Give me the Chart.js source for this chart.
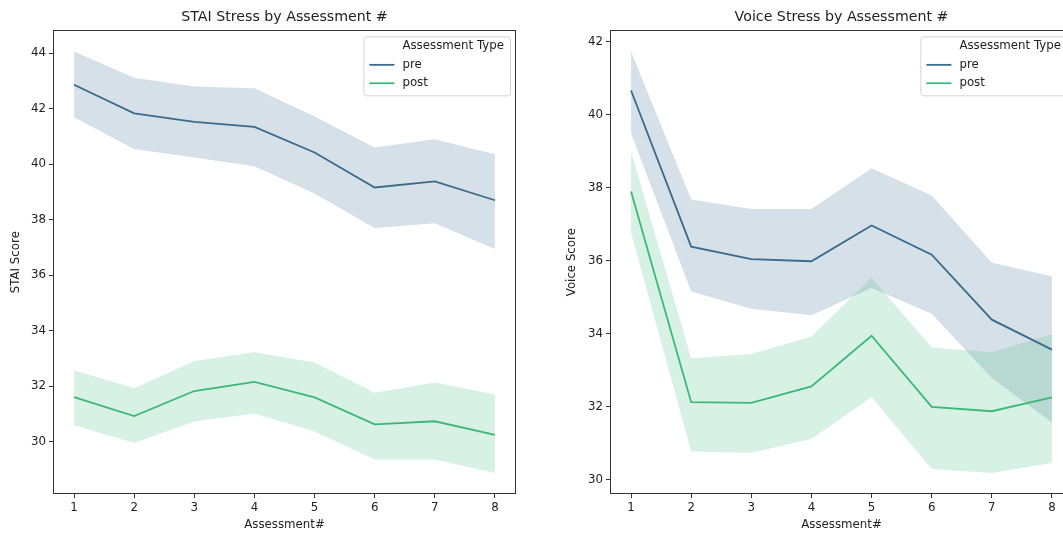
<!DOCTYPE html>
<html>
<head>
<meta charset="utf-8">
<script src="https://cdn.jsdelivr.net/npm/chart.js@4.4.0/dist/chart.umd.min.js"></script>
<style>
  html, body { margin: 0; padding: 0; background: #fff; overflow: hidden; }
  #wrap { position: relative; width: 1063px; height: 533px; overflow: hidden; }
  #staiChart { position: absolute; left: 0; top: 0; }
  #voiceChart { position: absolute; left: 550px; top: 0; }
</style>
</head>
<body>
<div id="wrap">
  <canvas id="staiChart" width="540" height="533"></canvas>
  <canvas id="voiceChart" width="540" height="533"></canvas>
</div>
<script>
const assessments = [1, 2, 3, 4, 5, 6, 7, 8];

const staiPre = [42.86, 41.83, 41.52, 41.34, 40.42, 39.16, 39.38, 38.70];
const staiPreLow = [41.69, 40.55, 40.24, 39.92, 38.94, 37.70, 37.87, 36.94];
const staiPreHigh = [44.06, 43.11, 42.80, 42.73, 41.72, 40.60, 40.90, 40.36];
const staiPost = [31.61, 30.93, 31.83, 32.16, 31.60, 30.63, 30.74, 30.25];
const staiPostLow = [30.60, 29.96, 30.73, 31.02, 30.37, 29.36, 29.36, 28.88];
const staiPostHigh = [32.58, 31.93, 32.91, 33.23, 32.86, 31.77, 32.14, 31.70];

const voicePre = [40.67, 36.39, 36.05, 35.99, 36.97, 36.17, 34.39, 33.57];
const voicePreLow = [39.49, 35.16, 34.69, 34.51, 35.26, 34.55, 32.79, 31.57];
const voicePreHigh = [41.74, 37.68, 37.42, 37.42, 38.54, 37.79, 35.95, 35.58];
const voicePost = [37.90, 32.13, 32.11, 32.56, 33.95, 32.00, 31.88, 32.26];
const voicePostLow = [36.77, 30.78, 30.74, 31.12, 32.27, 30.30, 30.19, 30.46];
const voicePostHigh = [39.00, 33.33, 33.45, 33.93, 35.54, 33.63, 33.50, 33.99];

const staiTicks = [30, 32, 34, 36, 38, 40, 42, 44];
const voiceTicks = [30, 32, 34, 36, 38, 40, 42];

const preColor = '#3a6a8c';
const postColor = '#3cb878';
const preBand = 'rgba(49, 100, 140, 0.2)';
const postBand = 'rgba(53, 183, 121, 0.2)';
const textColor = '#222';
const fontFamily = '"DejaVu Sans", sans-serif';
const labelSize = 11.8;
const titleSize = 14.2;

const pts = (ys) => assessments.map((x, i) => ({ x: x, y: ys[i] }));

// box round the plot, like matplotlib spines
const spines = {
  id: 'spines',
  afterDatasetsDraw(chart) {
    const { ctx, chartArea: a } = chart;
    ctx.save();
    ctx.strokeStyle = '#333';
    ctx.lineWidth = 1;
    ctx.strokeRect(Math.round(a.left) + 0.5, Math.round(a.top) + 0.5,
      Math.round(a.width) - 1, Math.round(a.height) - 1);
    ctx.restore();
  }
};

// legend box inside the upper right corner
const legendBox = {
  id: 'legendBox',
  afterDatasetsDraw(chart) {
    const { ctx, chartArea: a } = chart;
    const items = chart.data.datasets.filter(d => d.inLegend);
    const title = 'Assessment Type';
    ctx.save();
    ctx.font = labelSize + 'px ' + fontFamily;
    const w = 39 + ctx.measureText(title).width + 6;
    const h = 59;
    const x = a.right - 6 - w;
    const y = a.top + 6;
    ctx.beginPath();
    ctx.roundRect(x + 0.5, y + 0.5, w, h, 3);
    ctx.fillStyle = 'rgba(255, 255, 255, 0.8)';
    ctx.fill();
    ctx.strokeStyle = '#d4d4d4';
    ctx.lineWidth = 1;
    ctx.stroke();
    ctx.fillStyle = textColor;
    ctx.textBaseline = 'middle';
    ctx.fillText(title, x + 39, y + 10);
    items.forEach((d, i) => {
      const ly = y + 28.5 + i * 18.4;
      ctx.beginPath();
      ctx.moveTo(x + 6, ly);
      ctx.lineTo(x + 31, ly);
      ctx.strokeStyle = d.borderColor;
      ctx.lineWidth = 1.8;
      ctx.stroke();
      ctx.fillText(d.label, x + 39, ly);
    });
    ctx.restore();
  }
};

function makeChart(id, opts) {
  const lows = opts.preLow.concat(opts.postLow);
  const highs = opts.preHigh.concat(opts.postHigh);
  const lo = Math.min(...lows);
  const hi = Math.max(...highs);
  const margin = (hi - lo) * 0.05;

  const ctx = document.getElementById(id).getContext('2d');
  return new Chart(ctx, {
    type: 'line',
    data: {
      datasets: [
        { label: 'post', inLegend: false, data: pts(opts.post), borderColor: postColor, borderWidth: 1.8, pointRadius: 0, fill: false },
        { label: 'pre', inLegend: false, data: pts(opts.pre), borderColor: preColor, borderWidth: 1.8, pointRadius: 0, fill: false },
        { label: 'post high', data: pts(opts.postHigh), borderWidth: 0, pointRadius: 0, backgroundColor: postBand, fill: '+1' },
        { label: 'post low', data: pts(opts.postLow), borderWidth: 0, pointRadius: 0, fill: false },
        { label: 'pre high', data: pts(opts.preHigh), borderWidth: 0, pointRadius: 0, backgroundColor: preBand, fill: '+1' },
        { label: 'pre low', data: pts(opts.preLow), borderWidth: 0, pointRadius: 0, fill: false },
        // legend entries only
        { label: 'pre', inLegend: true, data: [], borderColor: preColor },
        { label: 'post', inLegend: true, data: [], borderColor: postColor }
      ]
    },
    options: {
      responsive: false,
      animation: false,
      layout: { padding: { left: 0, right: opts.rightPad, top: 0, bottom: 0 } },
      plugins: {
        legend: { display: false },
        tooltip: { enabled: false },
        title: {
          display: true,
          fullSize: false,
          text: opts.title,
          color: textColor,
          font: { size: titleSize, family: fontFamily, weight: 'normal' },
          padding: { top: 8.5, bottom: 4.8 }
        }
      },
      scales: {
        x: {
          type: 'linear',
          min: 0.65,
          max: 8.35,
          afterBuildTicks: (axis) => { axis.ticks = assessments.map(v => ({ value: v })); },
          afterFit: (axis) => { axis.height = 39; },
          grid: { display: true, drawOnChartArea: false, drawTicks: true, tickLength: 4, tickColor: '#333' },
          border: { display: false },
          ticks: { padding: 3, color: textColor, font: { size: labelSize, family: fontFamily } },
          title: {
            display: true,
            text: 'Assessment#',
            color: textColor,
            font: { size: labelSize, family: fontFamily },
            padding: { top: 0, bottom: 0.6 }
          }
        },
        y: {
          type: 'linear',
          min: lo - margin,
          max: hi + margin,
          afterBuildTicks: (axis) => { axis.ticks = opts.ticks.map(v => ({ value: v })); },
          afterFit: (axis) => { axis.width = opts.axisWidth; },
          grid: { display: true, drawOnChartArea: false, drawTicks: true, tickLength: 4, tickColor: '#333' },
          border: { display: false },
          ticks: { padding: 3, color: textColor, font: { size: labelSize, family: fontFamily } },
          title: {
            display: true,
            text: opts.yTitle,
            color: textColor,
            font: { size: labelSize, family: fontFamily },
            padding: { top: opts.yTitlePad, bottom: 0 }
          }
        }
      }
    },
    plugins: [spines, legendBox]
  });
}

const staiChart = makeChart('staiChart', {
  title: 'STAI Stress by Assessment #',
  yTitle: 'STAI Score',
  pre: staiPre, preLow: staiPreLow, preHigh: staiPreHigh,
  post: staiPost, postLow: staiPostLow, postHigh: staiPostHigh,
  ticks: staiTicks,
  axisWidth: 53,
  yTitlePad: 8.9,
  rightPad: 24
});

const voiceChart = makeChart('voiceChart', {
  title: 'Voice Stress by Assessment #',
  yTitle: 'Voice Score',
  pre: voicePre, preLow: voicePreLow, preHigh: voicePreHigh,
  post: voicePost, postLow: voicePostLow, postHigh: voicePostHigh,
  ticks: voiceTicks,
  axisWidth: 60,
  yTitlePad: 14.9,
  rightPad: 17
});
</script>
</body>
</html>
